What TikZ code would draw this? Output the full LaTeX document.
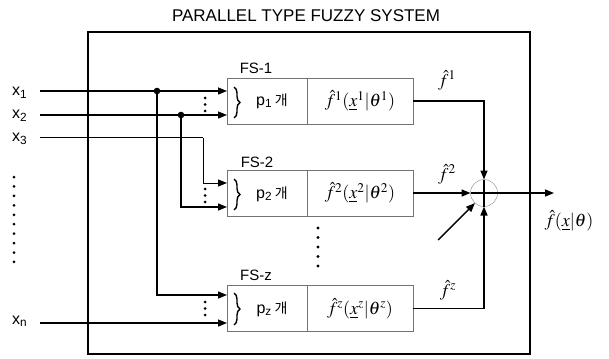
\documentclass[tikz,border=0pt]{standalone}
\usepackage{mathptmx}
\usepackage{fontspec}
\setmainfont{Liberation Serif}
\setsansfont{Liberation Sans}
\newfontfamily\kor{Noto Sans CJK KR}
\usetikzlibrary{arrows.meta,decorations.pathreplacing,calc}
\begin{document}
\begin{tikzpicture}[x=1pt,y=-1pt,
  arr/.style={line width=1.4pt,-{Triangle[length=9pt,width=7pt]}},
  wire/.style={line width=1.4pt},
  thinwire/.style={line width=1pt},
  fsbox/.style={draw=black!55, line width=0.6pt, minimum height=46pt, inner sep=0pt, outer sep=0pt},
  lbox/.style={fsbox, minimum width=80pt},
  rbox/.style={fsbox, minimum width=106pt, font=\fontsize{18}{21}\selectfont},
  lab/.style={font=\sffamily\fontsize{15}{18}\selectfont, inner sep=0pt},
  xlab/.style={font=\sffamily\fontsize{16}{18}\selectfont, inner sep=0pt, anchor=west},
  plab/.style={font=\sffamily\fontsize{16}{18}\selectfont, inner sep=0pt},
  mlab/.style={font=\fontsize{18}{21}\selectfont, inner sep=0pt},
  bracestyle/.style={line width=1.4pt, decorate, decoration={brace, amplitude=6pt}},
  jdot/.style={fill=black}
]
\useasboundingbox (0,0) rectangle (609,358);

% title and system frame
\node[lab, font=\sffamily\fontsize{17}{20}\selectfont] (title) at (306,16) {PARALLEL TYPE FUZZY SYSTEM};
\node[draw, line width=1.2pt, minimum width=442pt, minimum height=322pt, inner sep=0pt, outer sep=0pt] (sys) at (309,193) {};

% fuzzy subsystems
\node[lbox] (L1) at (267,101) {};
\node[rbox] (R1) at (360,101) {$\hat f^{1}(\underline{x}^{1}|\theta^{1})$};
\node[lbox] (L2) at (267,193) {};
\node[rbox] (R2) at (360,193) {$\hat f^{2}(\underline{x}^{2}|\theta^{2})$};
\node[lbox] (L3) at (267,308.5) {};
\node[rbox] (R3) at (360,308.5) {$\hat f^{z}(\underline{x}^{z}|\theta^{z})$};

\node[lab] (fs1) at (256,68) {FS-1};
\node[lab] (fs2) at (257,162) {FS-2};
\node[lab] (fsz) at (256,275) {FS-z};

\node[plab] (p1) at (272,101) {p\textsubscript{1}\,{\kor\fontsize{14}{16}\selectfont 개}};
\node[plab] (p2) at (272,194) {p\textsubscript{2}\,{\kor\fontsize{14}{16}\selectfont 개}};
\node[plab] (pz) at (272,309) {p\textsubscript{z}\,{\kor\fontsize{14}{16}\selectfont 개}};

\draw[bracestyle] (234,87) -- (234,118);
\draw[bracestyle] (234,179) -- (234,210);
\draw[bracestyle] (234,293) -- (234,325);

% inputs
\node[xlab] (x1) at (12,93) {x\textsubscript{1}};
\node[xlab] (x2) at (12,116) {x\textsubscript{2}};
\node[xlab] (x3) at (12,139) {x\textsubscript{3}};
\node[xlab] (xn) at (12,321) {x\textsubscript{n}};
\foreach \i in {0,...,9} \fill (14,177+9.44*\i) circle (1.5);

\coordinate (a1) at (40,91);
\coordinate (a2) at (40,115);
\coordinate (a3) at (40,138);
\coordinate (an) at (40,323);
\coordinate (t11) at (227,91);
\coordinate (t12) at (227,115);
\coordinate (t21) at (227,183);
\coordinate (t22) at (227,207);
\coordinate (tz1) at (227,295);
\coordinate (tz2) at (227,323);
\coordinate (d1) at (157,91);
\coordinate (d2) at (181,115);
\coordinate (k3) at (203,138);

\draw[arr] (a1) -- (t11);
\draw[arr] (a2) -- (t12);
\draw[thinwire] (a3) -- (k3);
\draw[arr, line width=1pt] (k3) |- (t21);
\draw[arr] (d2) |- (t22);
\draw[arr] (d1) |- (tz1);
\draw[arr] (an) -- (tz2);
\fill[jdot] (d1) circle (3.3);
\fill[jdot] (d2) circle (3.3);

% small vertical dots between inputs
\foreach \y in {98,104.5,111} \fill (205,\y) circle (1.5);
\foreach \y in {189,195.5,202} \fill (205,\y) circle (1.5);
\foreach \y in {302,308.5,315} \fill (205,\y) circle (1.5);

% dots between FS-2 and FS-z
\foreach \i in {0,...,4} \fill (318,228+9.5*\i) circle (1.6);

% summing junction
\node[circle, draw=black!40, line width=0.5pt, minimum size=27pt, inner sep=0pt, outer sep=0pt] (S) at (484,193) {};
\draw[arr] (R1.east) -| (S.north);
\draw[arr] (R2.east) -- (S.west);
\draw[arr] (R3.east) -| (S.south);
\draw[wire] (S.north) -- (S.south);
\coordinate (out) at (554,193);
\draw[arr] (S.west) -- (out);
\coordinate (adj) at (438,240);
\draw[arr] (adj) -- (S.228);

\node[mlab] (h1) at (447,80) {$\hat f^{1}$};
\node[mlab] (h2) at (447,174) {$\hat f^{2}$};
\node[mlab] (hz) at (448,290) {$\hat f^{z}$};
\node[mlab] (fout) at (569,221) {$\hat f(\underline{x}|\theta)$};
\end{tikzpicture}
\end{document}
